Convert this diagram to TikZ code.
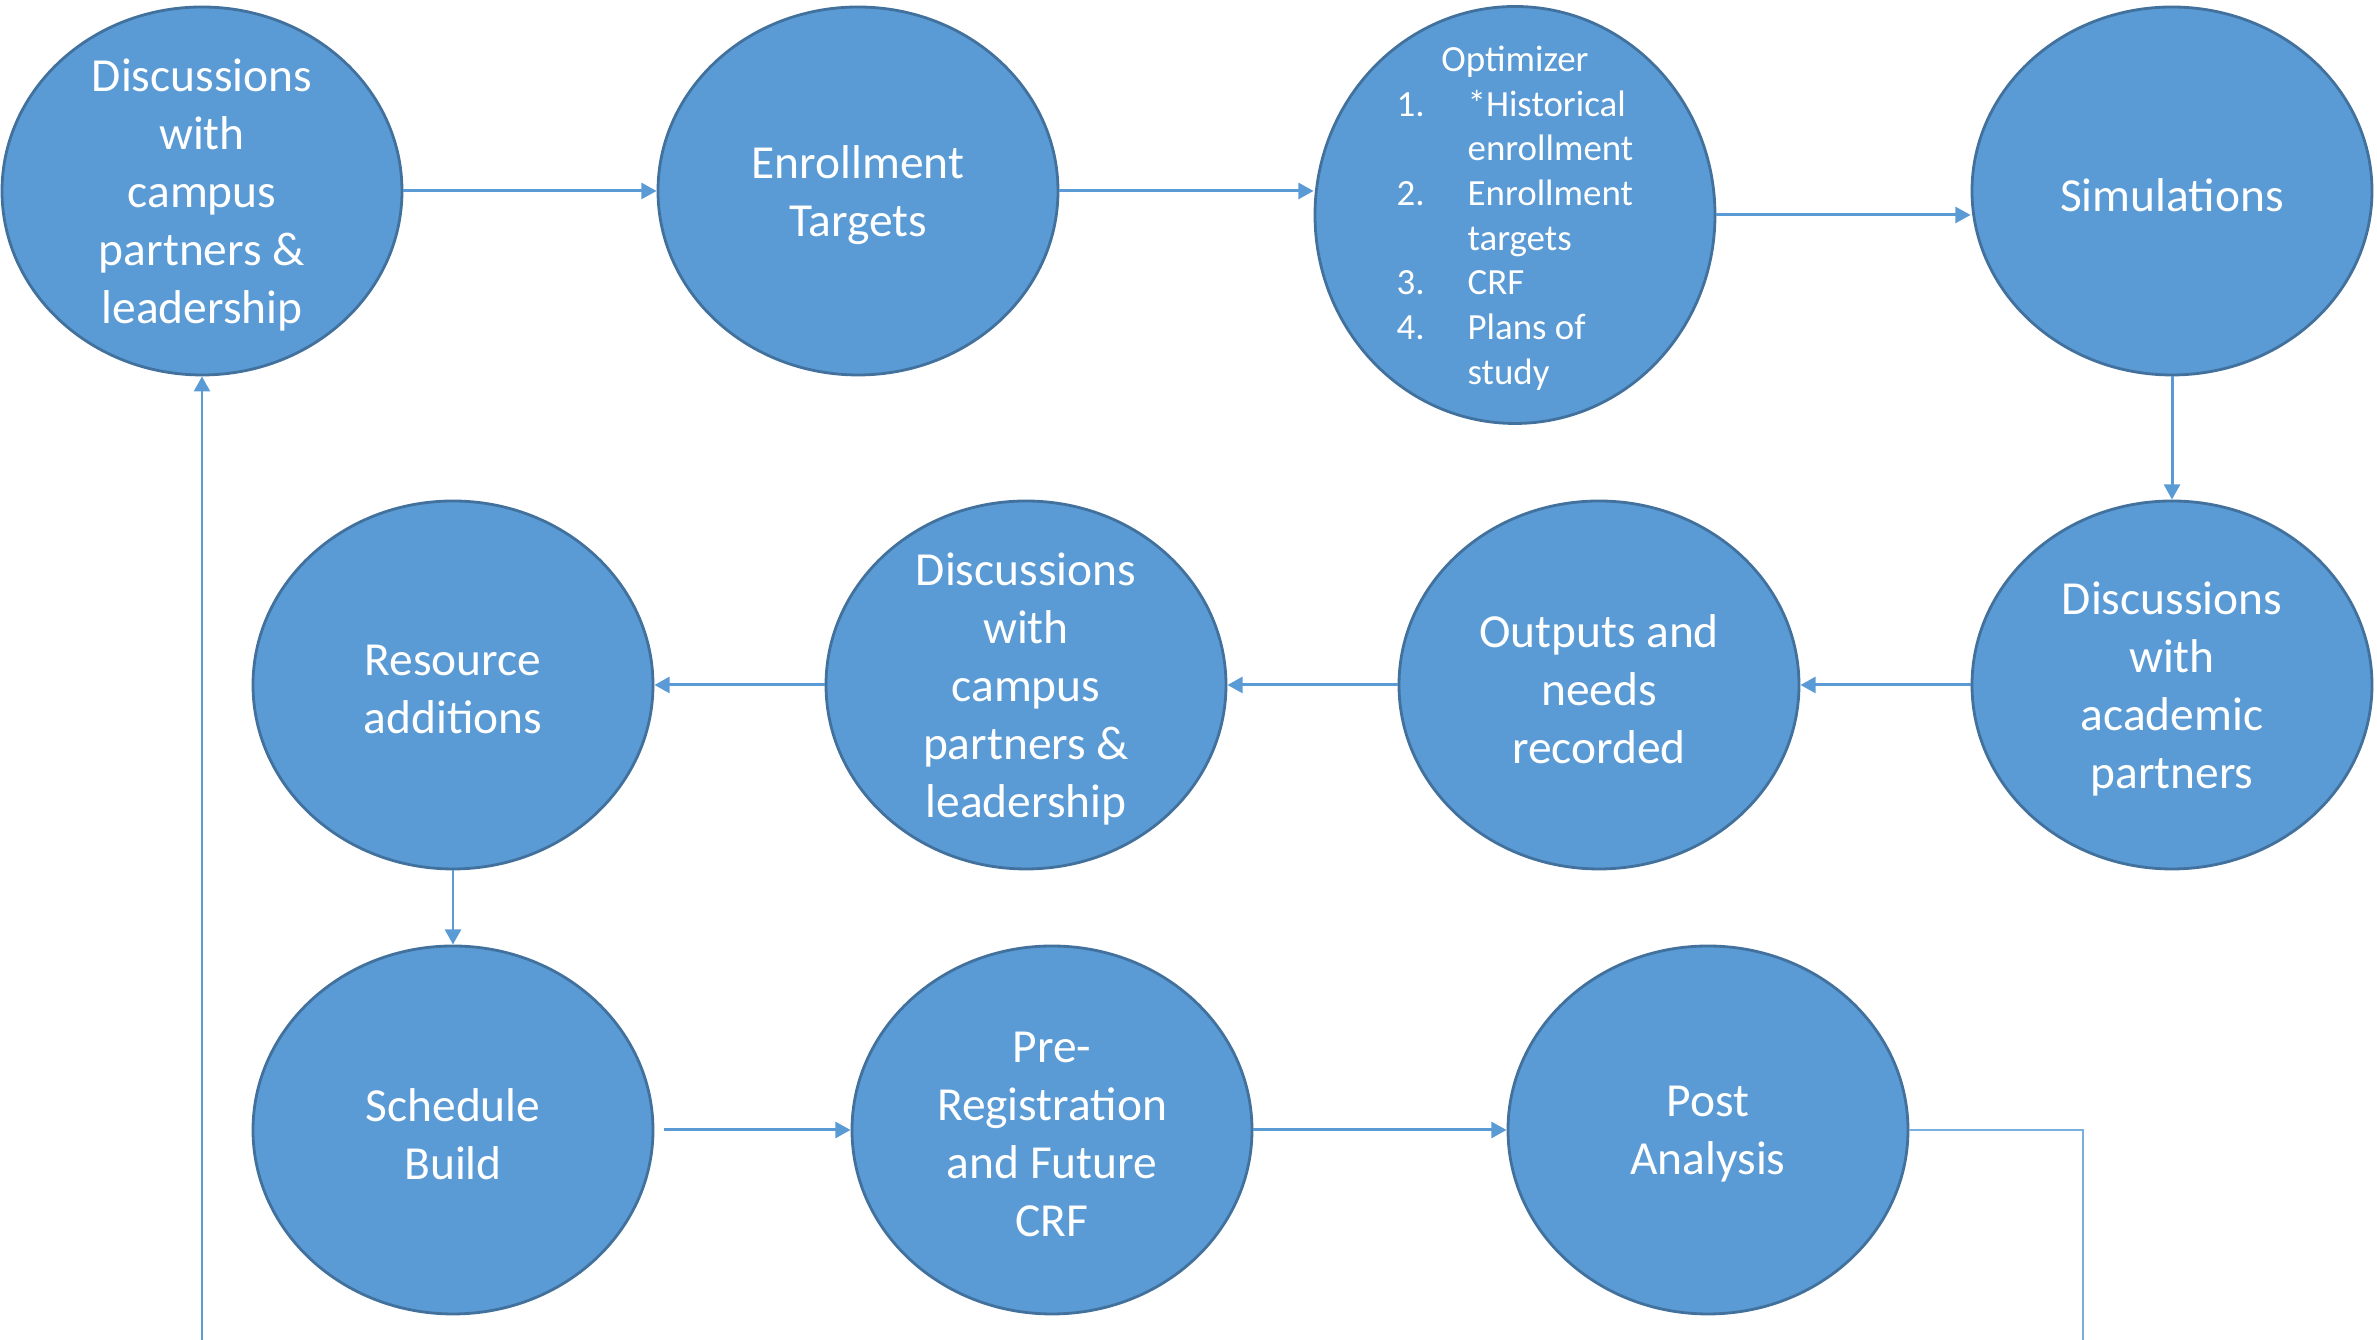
\documentclass[tikz,border=0pt]{standalone}
\usepackage{fontspec}
\setmainfont{Carlito}
\usetikzlibrary{shapes.geometric,arrows.meta}
\definecolor{blobfill}{HTML}{5B9BD5}
\definecolor{blobedge}{HTML}{41719C}

\begin{document}
\begin{tikzpicture}[blob/.style={ellipse,draw=blobedge,fill=blobfill,line width=0.8pt,minimum width=4cm,minimum height=3.68cm,inner sep=0},
    txt/.style={text=white,align=center,yshift=-0.04cm,font=\fontsize{13.5}{16.5}\selectfont},
    flow/.style={draw=blobfill,line width=0.85pt,-{Triangle[length=4.3pt,width=4.5pt]}},
    ret/.style={draw=blobfill!80,line width=0.6pt}]
    \useasboundingbox (0,0) rectangle (23.77,13.40);

    \node (D1) at (2.02,11.49) [blob]{};
    \node (D1t) at (D1) [txt]{Discussions\\with\\campus\\partners \&\\leadership};
    \node (ET) at (8.58,11.49) [blob]{};
    \node (ETt) at (ET) [txt]{Enrollment\\Targets};
    \node (Opt) at (15.15,11.25) [blob,minimum height=4.17cm]{};
    \node (Optt) at (Opt) [txt,font=\fontsize{10.5}{12.7}\selectfont]{%
      \begin{tabular}{@{}p{0.71cm}@{}l@{}}
        \multicolumn{2}{@{}c@{}}{Optimizer}\\
        1. & *Historical\\
           & enrollment\\
        2. & Enrollment\\
           & targets\\
        3. & CRF\\
        4. & Plans of\\
           & study
      \end{tabular}};
    \node (Sim) at (21.72,11.49) [blob]{};
    \node (Simt) at (Sim) [txt]{Simulations};

    \node (DA) at (21.72,6.55) [blob]{};
    \node (DAt) at (DA) [txt]{Discussions\\with\\academic\\partners};
    \node (Out) at (15.99,6.55) [blob]{};
    \node (Outt) at (Out) [txt]{Outputs and\\needs\\recorded};
    \node (DC) at (10.26,6.55) [blob]{};
    \node (DCt) at (DC) [txt]{Discussions\\with\\campus\\partners \&\\leadership};
    \node (RA) at (4.53,6.55) [blob]{};
    \node (RAt) at (RA) [txt]{Resource\\additions};

    \node (SB) at (4.53,2.10) [blob]{};
    \node (SBt) at (SB) [txt]{Schedule\\Build};
    \node (PR) at (10.52,2.10) [blob]{};
    \node (PRt) at (PR) [txt]{Pre-\\Registration\\and Future\\CRF};
    \node (PA) at (17.08,2.10) [blob]{};
    \node (PAt) at (PA) [txt]{Post\\Analysis};

    \draw [flow] (D1.east) -- (ET.west);
    \draw [flow] (ET.east) -- (ET.east -| Opt.west);
    \draw [flow] (Opt.east) -- (Opt.east -| Sim.west);
    \draw [flow] (Sim.south) -- (DA.north);
    \draw [flow] (DA.west) -- (Out.east);
    \draw [flow] (Out.west) -- (DC.east);
    \draw [flow] (DC.west) -- (RA.east);
    \draw [flow] (RA.south) -- (SB.north);
    \draw [flow] ([xshift=0.1cm]SB.east) -- (PR.west);
    \draw [flow] (PR.east) -- (PA.west);

    \coordinate (R) at (20.83,0);
    \draw [ret] (PA.east) -| (R);
    \draw [flow] (D1.south |- R) -- (D1.south);
\end{tikzpicture}
\end{document}
